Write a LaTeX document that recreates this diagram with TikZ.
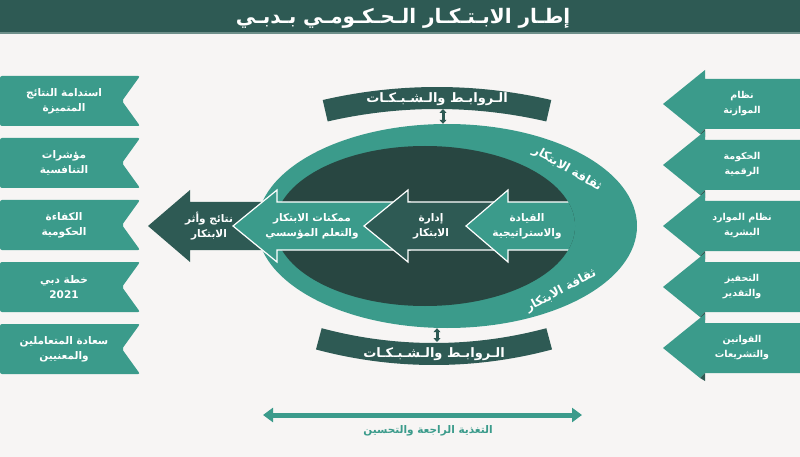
\documentclass[tikz,border=0pt]{standalone}
\usepackage{fontspec}
\newfontfamily\arabicfont[Script=Arabic]{DejaVu Sans}
\TeXXeTstate=1
\usetikzlibrary{arrows.meta, positioning, shapes.geometric}
\definecolor{framebg}{HTML}{F7F5F4}
\definecolor{frameteal}{HTML}{3B9B8B}
\definecolor{framedark}{HTML}{2E5A54}
\definecolor{framedeep}{HTML}{284641}
\definecolor{frameline}{HTML}{6E8F8A}
\newcommand{\artext}[1]{\beginR#1\endR}

\begin{document}
\begin{tikzpicture}[x=1pt, y=-1pt,
    every node/.style={font=\arabicfont\bfseries\fontsize{10.5}{15}\selectfont, text=white, align=center, inner sep=1pt},
    sidebox/.style={fill=frameteal, rounded corners=2pt},
    foldtip/.style={fill=framedark},
    flowarrow/.style={draw=white, line width=1.2pt, line join=miter},
    band/.style={fill=framedark},
    link/.style={draw=framedark, line width=3pt, {Triangle[width=7pt,length=4pt]}-{Triangle[width=7pt,length=4pt]}},
    feedback/.style={draw=frameteal, line width=5pt, {Triangle[width=14pt,length=10pt]}-{Triangle[width=14pt,length=10pt]}}]
    \useasboundingbox (0,0) rectangle (800,457);
    \fill[framebg] (0,0) rectangle (800,457);

    % header
    \fill[framedark] (0,0) rectangle (800,32);
    \fill[frameline] (0,32) rectangle (800,34);
    \node[font=\arabicfont\bfseries\fontsize{20}{24}\selectfont] (title) at (403,18) {\artext{إطـار الابـتـكـار الـحـكـومـي بـدبـي}};

    % results on the left
    \foreach \cy/\txt [count=\i] in {101/{\artext{استدامة النتائج}\\\artext{المتميزة}},
        163/{\artext{مؤشرات}\\\artext{التنافسية}},
        225/{\artext{الكفاءة}\\\artext{الحكومية}},
        287/{\artext{خطة دبي}\\2021},
        349/{\artext{سعادة المتعاملين}\\\artext{والمعنيين}}} {
      \fill[sidebox] (0,\cy-25) -- (140,\cy-25) -- (122,\cy) -- (140,\cy+25) -- (0,\cy+25) -- cycle;
      \node (goal\i) at (64,\cy) {\txt};
    }

    % enablers on the right
    \foreach \cy/\txt [count=\i] in {104/{\artext{نظام}\\\artext{الموازنة}},
        165/{\artext{الحكومة}\\\artext{الرقمية}},
        226/{\artext{نظام الموارد}\\\artext{البشرية}},
        287/{\artext{التحفيز}\\\artext{والتقدير}},
        348/{\artext{القوانين}\\\artext{والتشريعات}}} {
      \fill[sidebox, rounded corners=0pt] (800,\cy-25) -- (705,\cy-25) -- (705,\cy-34) -- (663,\cy) -- (700,\cy+30) -- (705,\cy+25) -- (800,\cy+25) -- cycle;
      \fill[foldtip] (700,\cy+30) -- (705,\cy+25) -- (705,\cy+33) -- cycle;
      \node[font=\arabicfont\bfseries\fontsize{9.5}{15}\selectfont] (system\i) at (742,\cy) {\txt};
    }

    % culture ellipse
    \node[ellipse, fill=frameteal, inner sep=0pt, minimum width=380, minimum height=204] (outer) at (447,226) {};
    \fill[framedeep] (425,226) ellipse [x radius=150, y radius=80];
    \node[rotate=-30, font=\arabicfont\bfseries\fontsize{12}{14}\selectfont] (culturetop) at (567,169) {\artext{ثقافة الابتكار}};
    \node[rotate=28, font=\arabicfont\bfseries\fontsize{12}{14}\selectfont] (culturebot) at (561,291) {\artext{ثقافة الابتكار}};

    % flow of arrows
    \fill[framedark] (148,226) -- (190,190) -- (190,202) -- (290,202) -- (290,250) -- (190,250) -- (190,262) -- cycle;
    \filldraw[flowarrow, fill=frameteal] (233,226) -- (277,190) -- (277,202) -- (410,202) -- (410,250) -- (277,250) -- (277,262) -- cycle;
    \filldraw[flowarrow, fill=framedark] (364,226) -- (408,190) -- (408,202) -- (500,202) -- (500,250) -- (408,250) -- (408,262) -- cycle;
    \begin{scope}
      \clip (425,226) ellipse [x radius=150, y radius=80];
      \filldraw[flowarrow, fill=frameteal] (466,226) -- (508,190) -- (508,202) -- (620,202) -- (620,250) -- (508,250) -- (508,262) -- cycle;
    \end{scope}
    \node (outcome) at (209,226) {\artext{نتائج وأثر}\\\artext{الابتكار}};
    \node (enabler) at (312,226) {\artext{ممكنات الابتكار}\\\artext{والتعلم المؤسسي}};
    \node (manage) at (431,226) {\artext{إدارة}\\\artext{الابتكار}};
    \node (lead) at (527,226) {\artext{القيادة}\\\artext{والاستراتيجية}};

    % links and networks
    \fill[band] ([shift={(437,595)}]257:508) arc[start angle=257, end angle=283, radius=508] -- ([shift={(437,595)}]283:486) arc[start angle=283, end angle=257, radius=486] -- cycle;
    \node[font=\arabicfont\bfseries\fontsize{13}{15}\selectfont] (linkstop) at (437,99) {\artext{الـروابـط والـشـبـكـات}};
    \fill[band] ([shift={(434,-91)}]75:434) arc[start angle=75, end angle=105, radius=434] -- ([shift={(434,-91)}]105:456) arc[start angle=105, end angle=75, radius=456] -- cycle;
    \node[font=\arabicfont\bfseries\fontsize{13}{15}\selectfont] (linksbot) at (434,354) {\artext{الـروابـط والـشـبـكـات}};
    \coordinate (topgap) at (443,109);
    \coordinate (botgap) at (437,342);
    \draw[link] (topgap) -- (topgap |- outer.north);
    \draw[link] (botgap |- outer.south) -- (botgap);

    % feedback
    \coordinate (fbleft) at (263,415);
    \coordinate (fbright) at (582,415);
    \draw[feedback] (fbleft) -- (fbright);
    \node[text=frameteal, font=\arabicfont\bfseries\fontsize{10.5}{12}\selectfont] (fblabel) at (428,431) {\artext{التغذية الراجعة والتحسين}};
\end{tikzpicture}
\end{document}
